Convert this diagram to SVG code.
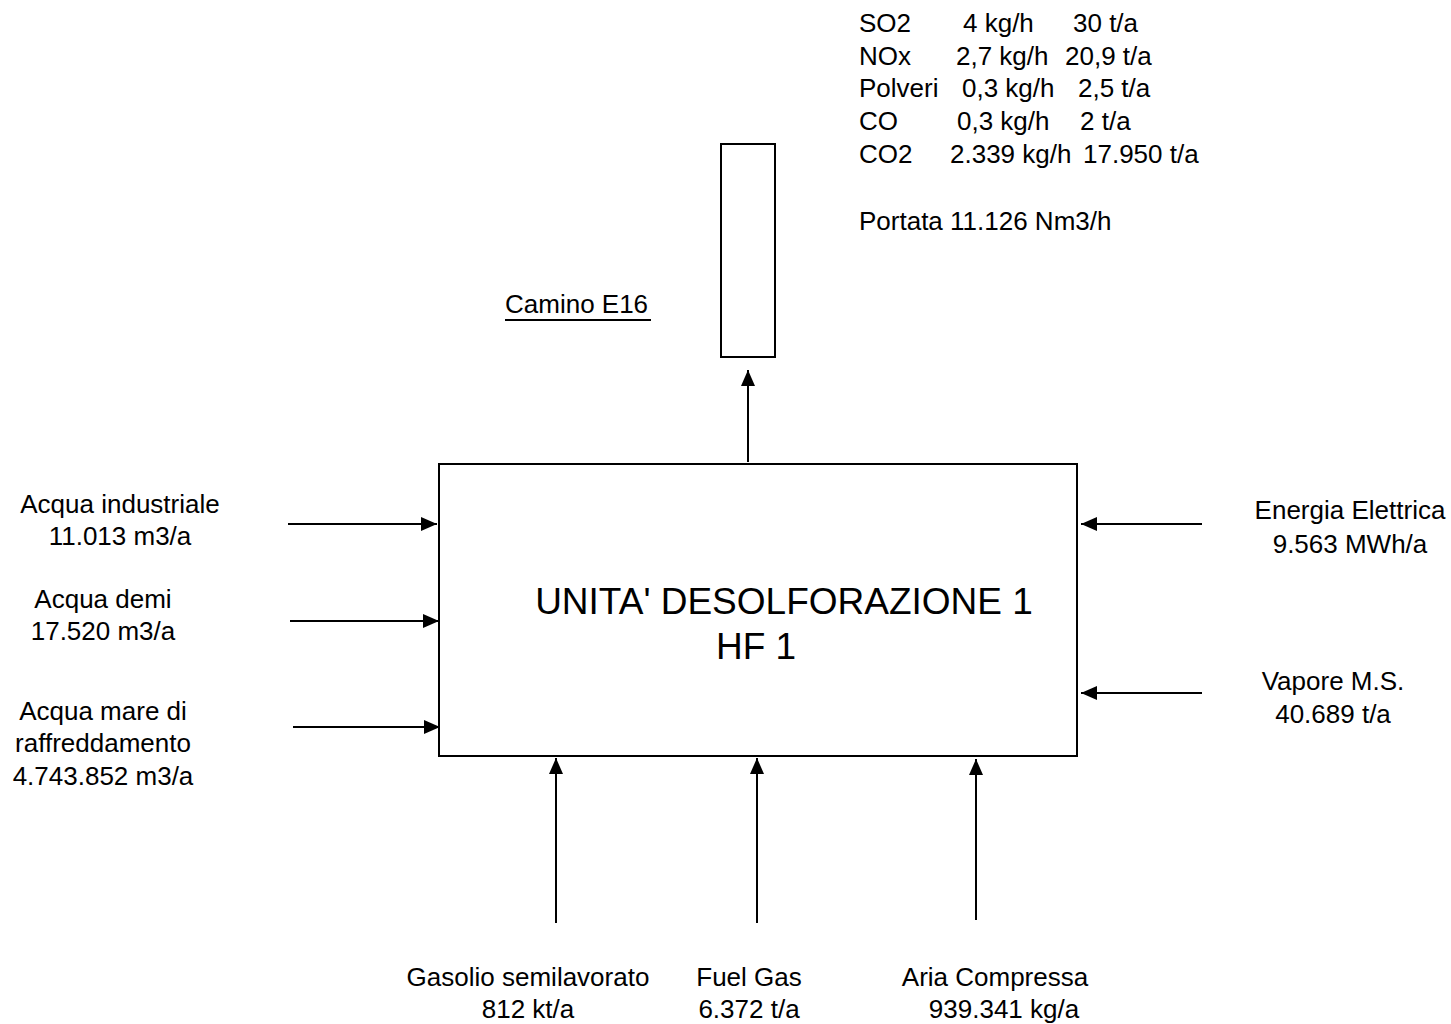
<svg xmlns="http://www.w3.org/2000/svg" width="1451" height="1024" viewBox="0 0 1451 1024">
<style>
text{font-family:"Liberation Sans",Arial,sans-serif;font-size:26px;fill:#000}
.c{text-anchor:middle}
.big{font-size:37px}
.box{fill:#fff;stroke:#000;stroke-width:2}
.ln{stroke:#000;stroke-width:2;fill:none}
</style>
<defs>
<marker id="ah" viewBox="0 0 16 14" refX="16" refY="7" markerWidth="16" markerHeight="14" markerUnits="userSpaceOnUse" orient="auto">
<path d="M0,0 L16,7 L0,14 Z" fill="#000"/>
</marker>
</defs>
<rect width="1451" height="1024" fill="#fff"/>
<g id="unit">
<rect class="box" x="439" y="464" width="638" height="292"/>
<text class="big c" x="784" y="614">UNITA' DESOLFORAZIONE 1</text>
<text class="big c" x="756" y="659">HF 1</text>
</g>
<g id="stack">
<rect class="box" x="721" y="144" width="54" height="213"/>
<text x="505" y="313">Camino E16</text>
<line class="ln" x1="505" y1="320" x2="651" y2="320"/>
</g>
<g id="emissions">
<text x="859" y="32">SO2</text><text x="963" y="32">4 kg/h</text><text x="1073" y="32">30 t/a</text>
<text x="859" y="65">NOx</text><text x="956" y="65">2,7 kg/h</text><text x="1065" y="65">20,9 t/a</text>
<text x="859" y="97">Polveri</text><text x="962" y="97">0,3 kg/h</text><text x="1078" y="97">2,5 t/a</text>
<text x="859" y="130">CO</text><text x="957" y="130">0,3 kg/h</text><text x="1080" y="130">2 t/a</text>
<text x="859" y="163">CO2</text><text x="950" y="163">2.339 kg/h</text><text x="1083" y="163">17.950 t/a</text>
<text x="859" y="230">Portata 11.126 Nm3/h</text>
</g>
<g id="in-acqua-industriale">
<text class="c" x="120" y="513">Acqua industriale</text>
<text class="c" x="120" y="545">11.013 m3/a</text>
</g>
<g id="in-acqua-demi">
<text class="c" x="103" y="608">Acqua demi</text>
<text class="c" x="103" y="640">17.520 m3/a</text>
</g>
<g id="in-acqua-mare">
<text class="c" x="103" y="720">Acqua mare di</text>
<text class="c" x="103" y="752">raffreddamento</text>
<text class="c" x="103" y="785">4.743.852 m3/a</text>
</g>
<g id="in-energia">
<text class="c" x="1350" y="519">Energia Elettrica</text>
<text class="c" x="1350" y="553">9.563 MWh/a</text>
</g>
<g id="in-vapore">
<text class="c" x="1333" y="690">Vapore M.S.</text>
<text class="c" x="1333" y="723">40.689 t/a</text>
</g>
<g id="in-gasolio">
<text class="c" x="528" y="986">Gasolio semilavorato</text>
<text class="c" x="528" y="1018">812 kt/a</text>
</g>
<g id="in-fuelgas">
<text class="c" x="749" y="986">Fuel Gas</text>
<text class="c" x="749" y="1018">6.372 t/a</text>
</g>
<g id="in-aria">
<text class="c" x="995" y="986">Aria Compressa</text>
<text class="c" x="1004" y="1018">939.341 kg/a</text>
</g>
<g id="connectors">
<line class="ln" x1="748" y1="462" x2="748" y2="370" marker-end="url(#ah)"/>
<line class="ln" x1="288" y1="524" x2="437" y2="524" marker-end="url(#ah)"/>
<line class="ln" x1="290" y1="621" x2="439" y2="621" marker-end="url(#ah)"/>
<line class="ln" x1="293" y1="727" x2="440" y2="727" marker-end="url(#ah)"/>
<line class="ln" x1="1202" y1="524" x2="1081" y2="524" marker-end="url(#ah)"/>
<line class="ln" x1="1202" y1="693" x2="1081" y2="693" marker-end="url(#ah)"/>
<line class="ln" x1="556" y1="923" x2="556" y2="758" marker-end="url(#ah)"/>
<line class="ln" x1="757" y1="923" x2="757" y2="758" marker-end="url(#ah)"/>
<line class="ln" x1="976" y1="920" x2="976" y2="759" marker-end="url(#ah)"/>
</g>
</svg>
